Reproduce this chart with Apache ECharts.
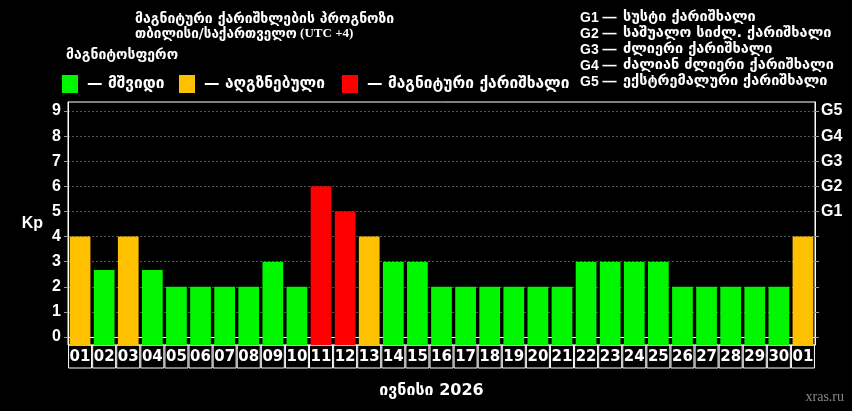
<!DOCTYPE html>
<html>
<head>
<meta charset="utf-8">
<script src="https://cdn.jsdelivr.net/npm/echarts@6/dist/echarts.min.js"></script>
<style>
  html, body { margin: 0; padding: 0; background: #000; }
  #chart { width: 852px; height: 411px; }
</style>
</head>
<body>
<div id="chart"></div>
<script>
// ივნისი 2026 - Kp პროგნოზი
var days = ['01','02','03','04','05','06','07','08','09','10','11','12','13','14','15',
            '16','17','18','19','20','21','22','23','24','25','26','27','28','29','30','01'];
var kp = [4, 2.67, 4, 2.67, 2, 2, 2, 2, 3, 2, 6, 5, 4, 3, 3,
          2, 2, 2, 2, 2, 2, 3, 3, 3, 3, 2, 2, 2, 2, 2, 4];
var kpTicks = [0, 1, 2, 3, 4, 5, 6, 7, 8, 9];
var levelNames = ['მშვიდი', 'აღგზნებული', 'მაგნიტური ქარიშხალი'];
var levelColors = ['#00f700', '#ffc000', '#ff0000'];
var gLabels = ['G1', 'G2', 'G3', 'G4', 'G5'];
var gTexts = ['სუსტი ქარიშხალი', 'საშუალო სიძლ. ქარიშხალი', 'ძლიერი ქარიშხალი',
              'ძალიან ძლიერი ქარიშხალი', 'ექსტრემალური ქარიშხალი'];

var geo = '"DejaVu Sans"';
var narrow = '"Liberation Sans Narrow", "DejaVu Sans"';

function level(v) {
  if (v >= 5) return 2;
  if (v >= 4) return 1;
  return 0;
}

var chart = echarts.init(document.getElementById('chart'));

var series = levelNames.map(function (name, li) {
  return {
    name: name,
    type: 'bar',
    barGap: '-100%',
    barCategoryGap: '14%',
    itemStyle: { color: levelColors[li] },
    data: kp.map(function (v) { return level(v) === li ? v : '-'; })
  };
});

var legends = levelNames.map(function (name, li) {
  return {
    data: [name],
    left: [57, 174, 337][li],
    top: 70,
    icon: 'rect',
    itemWidth: 16,
    itemHeight: 18,
    selectedMode: false,
    formatter: '— {name}',
    textStyle: { color: '#fff', fontFamily: geo, fontWeight: 'bold', fontSize: 15.5, padding: [0, 0, 0, 4] }
  };
});

var graphics = [
  { type: 'text', left: 135, top: 12,
    style: { text: 'მაგნიტური ქარიშხლების პროგნოზი', fill: '#fff', font: 'bold 14px ' + geo } },
  { type: 'text', left: 135, top: 27,
    style: { text: '{g|თბილისი/საქართველო} {u|(UTC +4)}', fill: '#fff',
      rich: { g: { fontFamily: geo, fontWeight: 'bold', fontSize: 13.5, fill: '#fff' },
              u: { fontFamily: '"Liberation Serif"', fontWeight: 'bold', fontSize: 13, fill: '#fff' } } } },
  { type: 'text', left: 66, top: 48,
    style: { text: 'მაგნიტოსფერო', fill: '#fff', font: 'bold 14px ' + geo } },
  { type: 'text', right: 8, top: 390,
    style: { text: 'xras.ru', fill: '#8a8a8a', font: '14px "Liberation Sans Narrow"' } }
];
gLabels.forEach(function (g, i) {
  graphics.push({ type: 'text', left: 580, top: 11 + i * 16,
    style: { text: g + ' —', fill: '#fff', font: 'bold 14px "Liberation Sans"' } });
  graphics.push({ type: 'text', left: 623, top: 10 + i * 16,
    style: { text: gTexts[i], fill: '#fff', font: 'bold 14.5px ' + geo } });
});

var option = {
  backgroundColor: '#000',
  animation: false,
  legend: legends,
  graphic: graphics,
  grid: { left: 68, right: 37, top: 102, bottom: 66, show: true, borderColor: '#fff', borderWidth: 1 },
  xAxis: {
    type: 'category',
    data: days,
    name: 'ივნისი 2026',
    nameLocation: 'middle',
    nameGap: 38,
    nameTextStyle: { color: '#fff', fontFamily: narrow, fontWeight: 'bold', fontSize: 16, padding: [0, 20, 0, 0] },
    axisLine: { lineStyle: { color: '#fff' } },
    axisTick: { show: false },
    splitLine: { show: true, interval: function (i) { return i === 30; }, lineStyle: { color: '#fff', width: 1 } },
    axisLabel: {
      interval: 0, margin: 0, color: '#fff', fontFamily: narrow, fontWeight: 'bold', fontSize: 15,
      width: 23, height: 23, lineHeight: 24, align: 'center', verticalAlign: 'top',
      borderColor: '#fff', borderWidth: 1
    }
  },
  yAxis: [{
    type: 'value',
    min: -0.32, max: 9.36, startValue: -0.32,
    name: 'Kp', nameLocation: 'middle', nameGap: 25, nameRotate: 0,
    nameTextStyle: { color: '#fff', fontFamily: '"Liberation Sans"', fontWeight: 'bold', fontSize: 16 },
    axisLine: { show: true, lineStyle: { color: '#fff' } },
    axisTick: { show: true, length: 4, customValues: kpTicks, lineStyle: { color: '#999' } },
    axisLabel: { color: '#fff', fontFamily: '"Liberation Sans"', fontWeight: 'bold', fontSize: 16, margin: 7,
      customValues: kpTicks },
    splitLine: { show: true, lineStyle: { color: '#555', type: [2, 2] } }
  }, {
    type: 'value',
    min: -0.32, max: 9.36,
    axisLine: { show: true, lineStyle: { color: '#fff' } },
    axisTick: { show: true, length: 4, customValues: kpTicks, lineStyle: { color: '#999' } },
    axisLabel: { color: '#fff', fontFamily: '"Liberation Sans"', fontWeight: 'bold', fontSize: 16, margin: 6,
      customValues: kpTicks.slice(5),
      formatter: function (v) { return gLabels[Math.round(v) - 5]; } },
    splitLine: { show: false }
  }],
  series: series
};

chart.setOption(option);
</script>
</body>
</html>
